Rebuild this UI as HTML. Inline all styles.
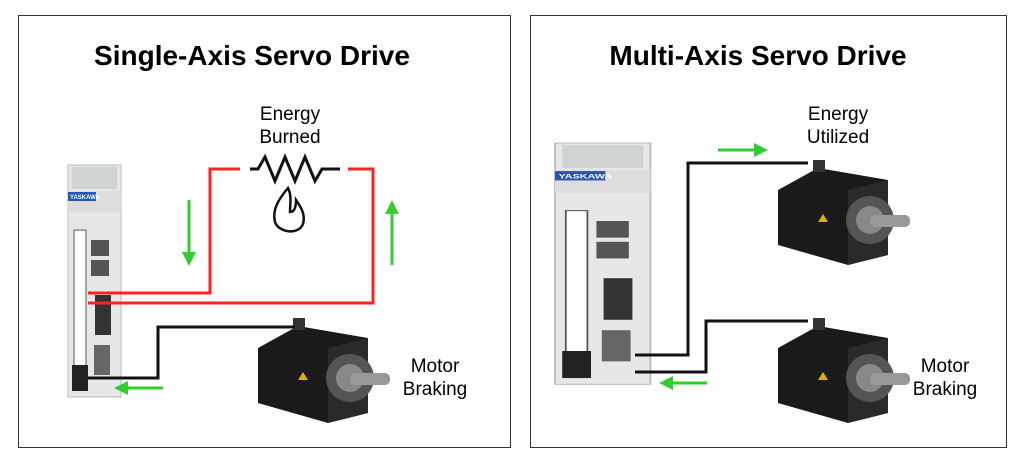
<!DOCTYPE html>
<html><head><style>
body{margin:0;background:#fff;}
svg text{font-family:"Liberation Sans",sans-serif;}
</style></head><body>
<svg width="1024" height="470" viewBox="0 0 1024 470" xmlns="http://www.w3.org/2000/svg">
<defs>
<g id="drive">
  <rect x="0" y="0" width="53" height="232" fill="#e6e8e8" stroke="#bbb"/>
  <rect x="4" y="2" width="45" height="22" fill="#d0d3d3"/>
  <rect x="0" y="26" width="53" height="22" fill="#ddd"/>
  <rect x="0" y="27" width="28" height="9" fill="#2456b8"/>
  <text x="2" y="34" font-size="6" fill="#fff" font-weight="bold">YASKAWA</text>
  <rect x="6" y="65" width="12" height="160" fill="#fff" stroke="#555"/>
  <rect x="23" y="75" width="18" height="16" fill="#555"/>
  <rect x="23" y="95" width="18" height="16" fill="#555"/>
  <rect x="27" y="130" width="16" height="40" fill="#333"/>
  <rect x="26" y="180" width="16" height="30" fill="#666"/>
  <rect x="4" y="200" width="16" height="26" fill="#222"/>
</g>
<g id="motor">
  <polygon points="0,30 40,8 110,20 110,95 70,105 0,85" fill="#1a1a1a"/>
  <polygon points="70,30 110,20 110,95 70,105" fill="#2a2a2a"/>
  <circle cx="92" cy="60" r="24" fill="#555"/>
  <circle cx="92" cy="60" r="14" fill="#888"/>
  <rect x="92" y="55" width="40" height="12" rx="5" fill="#999"/>
  <rect x="35" y="0" width="12" height="12" fill="#333"/>
  <polygon points="40,62 45,54 50,62" fill="#e0b000"/>
</g>
</defs>
<rect x="18.5" y="15.5" width="492" height="432" fill="#fff" stroke="#333"/>
<rect x="530.5" y="15.5" width="476" height="432" fill="#fff" stroke="#333"/>
<text x="252" y="65" font-size="28" font-weight="bold" text-anchor="middle">Single-Axis Servo Drive</text>
<text x="758" y="65" font-size="28" font-weight="bold" text-anchor="middle">Multi-Axis Servo Drive</text>
<text x="290" y="120" font-size="19" text-anchor="middle">Energy</text>
<text x="290" y="143" font-size="19" text-anchor="middle">Burned</text>
<text x="838" y="120" font-size="19" text-anchor="middle">Energy</text>
<text x="838" y="143" font-size="19" text-anchor="middle">Utilized</text>
<text x="435" y="372" font-size="19" text-anchor="middle">Motor</text>
<text x="435" y="395" font-size="19" text-anchor="middle">Braking</text>
<text x="945" y="372" font-size="19" text-anchor="middle">Motor</text>
<text x="945" y="395" font-size="19" text-anchor="middle">Braking</text>

<use href="#drive" x="68" y="165"/>
<use href="#motor" x="258" y="318"/>
<polyline points="88,293 210,293 210,169 240,169" fill="none" stroke="#f22" stroke-width="3"/>
<polyline points="348,169 373,169 373,303 88,303" fill="none" stroke="#f22" stroke-width="3"/>
<polyline points="250,169 258,169 265,157 275,181 285,157 295,181 305,157 315,181 322,169 340,169" fill="none" stroke="#111" stroke-width="3"/>
<path d="M288,188 C278,200 272,210 275,222 C278,232 298,236 303,224 C306,214 300,206 296,200 C296,208 294,212 290,212 C290,204 292,196 288,188 Z" fill="none" stroke="#111" stroke-width="2.5"/>
<polyline points="88,378 158,378 158,327 295,327" fill="none" stroke="#111" stroke-width="3"/>
<g fill="#3c3" stroke="#3c3">
<line x1="189" y1="200" x2="189" y2="253" stroke-width="3"/><polygon points="182,252 196,252 189,266" stroke="none"/>
<line x1="392" y1="265" x2="392" y2="213" stroke-width="3"/><polygon points="385,214 399,214 392,200" stroke="none"/>
<line x1="163" y1="388" x2="127" y2="388" stroke-width="3"/><polygon points="128,381 128,395 114,388" stroke="none"/>
<line x1="718" y1="150" x2="755" y2="150" stroke-width="3"/><polygon points="754,143 754,157 768,150" stroke="none"/>
<line x1="707" y1="383" x2="672" y2="383" stroke-width="3"/><polygon points="673,376 673,390 659,383" stroke="none"/>
</g>

<g transform="translate(555,143) scale(1.8,1.04)"><use href="#drive"/></g>
<use href="#motor" x="778" y="160"/>
<use href="#motor" x="778" y="318"/>
<polyline points="635,355 688,355 688,163 808,163" fill="none" stroke="#111" stroke-width="3"/>
<polyline points="635,372 706,372 706,321 808,321" fill="none" stroke="#111" stroke-width="3"/>
</svg>
</body></html>
